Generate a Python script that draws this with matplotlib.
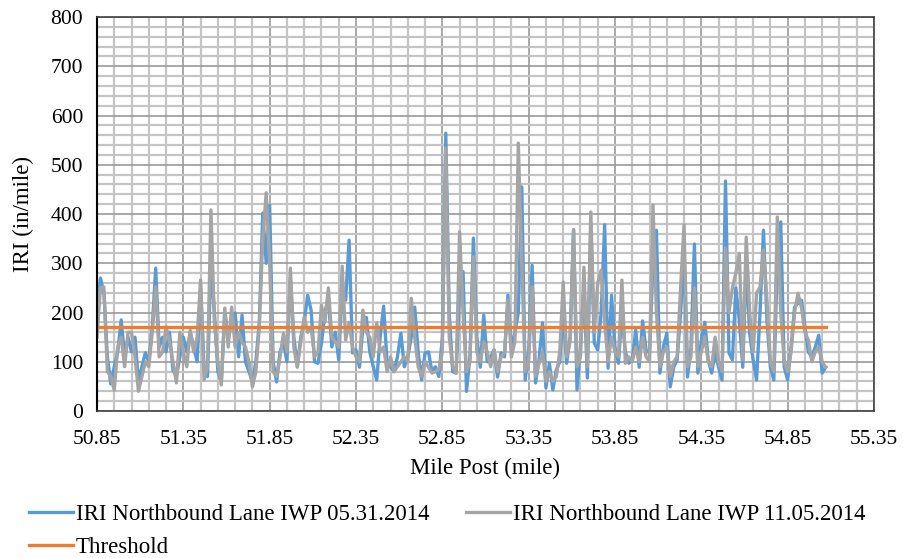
import numpy as np
import matplotlib.pyplot as plt
from matplotlib.ticker import MultipleLocator, FixedLocator

# mile posts, every 0.02 mile from 50.85
start_mp = 50.85
step_mp = 0.02

# IRI Northbound Lane IWP 05.31.2014 (in/mile)
iri_may = [
    200, 270, 240, 110, 55, 90, 120, 185, 110, 150,
    120, 150, 60, 90, 118, 100, 170, 290, 130, 150,
    120, 160, 83, 70, 110, 150, 120, 160, 130, 100,
    250, 90, 70, 300, 200, 80, 60, 200, 150, 180,
    199, 110, 195, 100, 80, 60, 100, 180, 402, 300,
    418, 100, 59, 120, 140, 100, 270, 150, 90, 150,
    180, 235, 205, 100, 97, 138, 200, 230, 130, 160,
    104, 250, 225, 347, 118, 124, 89, 170, 190, 120,
    90, 63, 150, 213, 100, 90, 80, 110, 158, 90,
    110, 150, 211, 120, 63, 118, 120, 80, 90, 70,
    150, 564, 200, 80, 77, 250, 283, 40, 110, 351,
    150, 89, 195, 100, 110, 124, 69, 118, 110, 235,
    130, 158, 200, 455, 63, 120, 296, 57, 104, 179,
    47, 97, 43, 83, 100, 200, 97, 150, 368, 43,
    130, 250, 67, 378, 138, 124, 200, 378, 87, 235,
    130, 97, 200, 120, 97, 104, 164, 89, 183, 124,
    118, 300, 367, 77, 130, 158, 49, 89, 104, 200,
    313, 69, 130, 339, 77, 144, 180, 104, 77, 120,
    89, 63, 467, 118, 104, 250, 185, 89, 300, 158,
    104, 63, 200, 367, 185, 89, 63, 300, 384, 89,
    63, 130, 211, 219, 225, 171, 120, 110, 130, 154,
    77, 89,
]

# IRI Northbound Lane IWP 11.05.2014 (in/mile)
iri_nov = [
    150, 250, 252, 80, 70, 42, 130, 150, 90, 160,
    160, 110, 40, 70, 100, 90, 160, 252, 110, 120,
    171, 140, 100, 57, 160, 120, 90, 164, 120, 150,
    266, 63, 90, 408, 180, 100, 53, 209, 130, 211,
    130, 160, 140, 130, 100, 49, 80, 170, 350, 443,
    300, 80, 70, 110, 158, 120, 290, 130, 89, 140,
    191, 160, 170, 110, 120, 215, 180, 250, 150, 140,
    130, 294, 144, 180, 130, 110, 100, 205, 160, 150,
    110, 179, 120, 130, 80, 110, 80, 90, 100, 110,
    100, 229, 150, 90, 70, 100, 89, 77, 80, 85,
    120, 534, 150, 90, 77, 364, 200, 80, 100, 313,
    120, 100, 140, 120, 90, 124, 80, 110, 118, 225,
    110, 140, 544, 300, 80, 100, 252, 70, 97, 120,
    60, 80, 60, 70, 120, 262, 110, 140, 368, 90,
    110, 292, 90, 404, 160, 260, 286, 180, 100, 150,
    120, 110, 266, 97, 110, 100, 130, 100, 150, 110,
    100, 418, 200, 90, 120, 130, 70, 100, 110, 250,
    378, 90, 110, 250, 90, 120, 150, 100, 90, 150,
    100, 80, 331, 200, 250, 280, 320, 104, 353, 200,
    120, 239, 252, 327, 225, 100, 80, 394, 200, 100,
    80, 120, 200, 239, 210, 160, 144, 100, 120, 130,
    100, 89,
]

threshold = 170
x_ticks = [50.85, 51.35, 51.85, 52.35, 52.85, 53.35, 53.85, 54.35, 54.85, 55.35]

mile_post = start_mp + step_mp * np.arange(len(iri_may))

plt.rcParams['font.family'] = ['Liberation Serif', 'DejaVu Serif']

fig = plt.figure(figsize=(9.04, 5.58), dpi=100)
ax = fig.add_axes([0.1073, 0.2634, 0.8595, 0.7061])

l1, = ax.plot(mile_post, iri_may, color='#5B9BD5', lw=2.4,
              label='IRI Northbound Lane IWP 05.31.2014')
l2, = ax.plot(mile_post, iri_nov, color='#A5A5A5', lw=2.4,
              label='IRI Northbound Lane IWP 11.05.2014')
l3, = ax.plot(mile_post, [threshold] * len(mile_post), color='#ED7D31', lw=2.4,
              label='Threshold')

ax.set_xlim(50.85, 55.35)
ax.set_ylim(0, 800)
ax.xaxis.set_major_locator(FixedLocator(x_ticks))
ax.set_xticklabels(['%.2f' % t for t in x_ticks])
ax.xaxis.set_minor_locator(FixedLocator(np.arange(50.85, 55.36, 0.1)))
ax.yaxis.set_major_locator(MultipleLocator(100))
ax.yaxis.set_minor_locator(MultipleLocator(20))

ax.grid(which='minor', color='#C4C4C4', lw=1.6)
ax.grid(which='major', color='#9A9A9A', lw=1.2)
ax.set_axisbelow(True)
ax.tick_params(which='both', length=0, labelsize=15.5)
ax.tick_params(axis='x', pad=14)
ax.tick_params(axis='y', pad=10)

for s in ax.spines.values():
    s.set_color('#404040')
    s.set_linewidth(1.2)
ax.spines['left'].set_color('black')
ax.spines['left'].set_linewidth(1.5)

ax.set_xlabel('Mile Post (mile)', fontsize=16.5, labelpad=6)
ax.set_ylabel('IRI (in/mile)', fontsize=16.5, labelpad=12)

fig.legend(handles=[l1, l3, l2], loc='upper left', bbox_to_anchor=(0.022, 0.1126),
           ncol=2, frameon=False, fontsize=16.5, handlelength=1.9,
           handletextpad=0.15, columnspacing=1.6, labelspacing=0.5,
           borderaxespad=0)

fig.savefig('out.png', dpi=100)
